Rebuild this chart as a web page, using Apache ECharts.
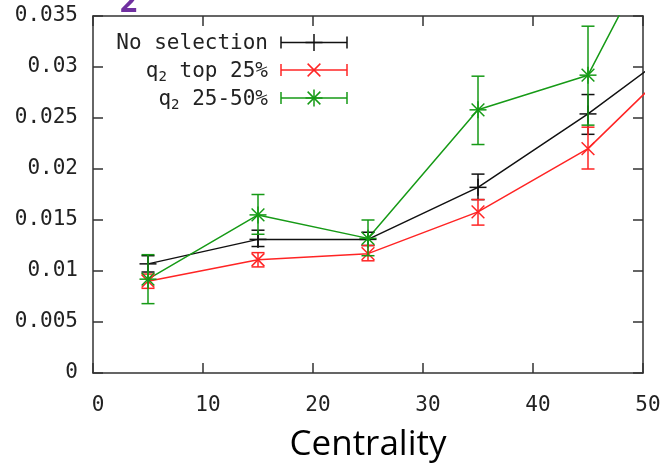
<!DOCTYPE html>
<html><head><meta charset="utf-8">
<script src="https://cdn.jsdelivr.net/npm/echarts@6/dist/echarts.min.js"></script>
<style>html,body{margin:0;padding:0;background:#fff}#c{width:662px;height:464px}</style>
</head><body><div id="c"></div>
<script>
var seriesNames = ['No selection', 'q2 top 25%', 'q2 25-50%'];
var xCentrality = [5, 15, 25, 35, 45, 55];
var noSelVal = [0.0107, 0.0131, 0.0131, 0.0182, 0.0254, 0.0334];
var noSelLo  = [0.0099, 0.0124, 0.0125, 0.0170, 0.0234];
var noSelHi  = [0.0115, 0.0140, 0.0138, 0.0195, 0.0273];
var topVal = [0.0090, 0.0111, 0.0117, 0.0158, 0.0220, 0.0325];
var topLo  = [0.0083, 0.0104, 0.0110, 0.0145, 0.0200];
var topHi  = [0.0097, 0.0118, 0.0125, 0.0170, 0.0241];
var midVal = [0.0092, 0.0155, 0.0132, 0.0258, 0.0292, 0.0499];
var midLo  = [0.0068, 0.0136, 0.0115, 0.0224, 0.0243];
var midHi  = [0.0116, 0.0175, 0.0150, 0.0291, 0.0340];
var xTicks = [0, 10, 20, 30, 40, 50];
var yTicks = [0, 0.005, 0.01, 0.015, 0.02, 0.025, 0.03, 0.035];

var colors = ['#111111', '#ff2424', '#169a16'];
var markers = ['plus', 'cross', 'star'];
var monoFont = '"DejaVu Sans Mono", monospace';

function markerShapes(kind, cx, cy, r, color) {
  var s = {stroke: color, lineWidth: 1.5, fill: null};
  var out = [];
  if (kind === 'plus' || kind === 'star') {
    out.push({type: 'line', shape: {x1: cx - r, y1: cy, x2: cx + r, y2: cy}, style: s});
    out.push({type: 'line', shape: {x1: cx, y1: cy - r, x2: cx, y2: cy + r}, style: s});
  }
  if (kind === 'cross' || kind === 'star') {
    var d = r * 0.75;
    out.push({type: 'line', shape: {x1: cx - d, y1: cy - d, x2: cx + d, y2: cy + d}, style: s});
    out.push({type: 'line', shape: {x1: cx - d, y1: cy + d, x2: cx + d, y2: cy - d}, style: s});
  }
  return out;
}

function errData(vals, lo, hi) {
  var d = [];
  for (var i = 0; i < lo.length; i++) d.push([xCentrality[i], vals[i], lo[i], hi[i]]);
  return d;
}
function lineData(vals) {
  return vals.map(function (v, i) { return [xCentrality[i], v]; });
}

function errSeries(idx, data) {
  return {
    type: 'custom', name: seriesNames[idx], z: 5, clip: true,
    data: data,
    encode: {x: 0, y: [1, 2, 3]},
    renderItem: function (params, api) {
      var x = api.value(0);
      var c = api.coord([x, api.value(1)]);
      var lo = api.coord([x, api.value(2)]);
      var hi = api.coord([x, api.value(3)]);
      var s = {stroke: colors[idx], lineWidth: 1.5};
      var cap = 6.5;
      var ch = [
        {type: 'line', shape: {x1: c[0], y1: lo[1], x2: c[0], y2: hi[1]}, style: s},
        {type: 'line', shape: {x1: c[0] - cap, y1: lo[1], x2: c[0] + cap, y2: lo[1]}, style: s},
        {type: 'line', shape: {x1: c[0] - cap, y1: hi[1], x2: c[0] + cap, y2: hi[1]}, style: s}
      ].concat(markerShapes(markers[idx], c[0], c[1], 8.5, colors[idx]));
      return {type: 'group', children: ch};
    }
  };
}

function lineSeries(idx, vals) {
  return {
    type: 'line', name: seriesNames[idx], data: lineData(vals), symbol: 'none',
    clip: true, z: 4, lineStyle: {color: colors[idx], width: 1.5}
  };
}

// legend (gnuplot style key)
var legendRows = [42.5, 70, 98];
var legendGraphics = [];
legendRows.forEach(function (y, i) {
  var name = seriesNames[i];
  var txt = name.indexOf('q2') === 0 ? '{n|q}{s|2}{n|' + name.slice(2) + '}' : '{n|' + name + '}';
  legendGraphics.push({
    type: 'text', x: 268, y: y + 1.5,
    style: {text: txt, align: 'right', verticalAlign: 'middle',
      rich: {n: {fontFamily: monoFont, fontSize: 21, fill: '#222'},
             s: {fontFamily: monoFont, fontSize: 14, fill: '#222', padding: [11, 0, 0, 0]}}}
  });
  var s = {stroke: colors[i], lineWidth: 1.5};
  legendGraphics.push({type: 'line', shape: {x1: 281, y1: y, x2: 347, y2: y}, style: s});
  legendGraphics.push({type: 'line', shape: {x1: 281, y1: y - 6, x2: 281, y2: y + 6}, style: s});
  legendGraphics.push({type: 'line', shape: {x1: 347, y1: y - 6, x2: 347, y2: y + 6}, style: s});
  markerShapes(markers[i], 314, y, 8.5, colors[i]).forEach(function (m) { legendGraphics.push(m); });
});
legendGraphics.push({
  type: 'text', x: 120, y: -12,
  style: {text: '2', fontFamily: '"Open Sans", sans-serif', fontWeight: 'bold', fontSize: 30, fill: '#7030a0'}
});

var axisLine = {show: true, onZero: false, lineStyle: {color: '#333', width: 1.5}};
var axisTick = {show: true, inside: true, length: 10, lineStyle: {color: '#333', width: 1.5}};

var option = {
  animation: false,
  backgroundColor: '#fff',
  grid: {left: 93, right: 19, top: 16, bottom: 91, containLabel: false, outerBoundsMode: 'none'},
  xAxis: [{
    type: 'value', min: xTicks[0], max: xTicks[xTicks.length - 1], interval: 10,
    position: 'bottom', axisLine: axisLine, axisTick: axisTick, splitLine: {show: false},
    axisLabel: {fontFamily: monoFont, fontSize: 21, color: '#222', margin: 22,
      padding: [0, 0, 0, 10], showMinLabel: true, showMaxLabel: true},
    name: 'Centrality', nameLocation: 'middle', nameGap: 55,
    nameTextStyle: {fontFamily: '"Open Sans", sans-serif', fontSize: 35, color: '#000'}
  }, {
    type: 'value', min: xTicks[0], max: xTicks[xTicks.length - 1], interval: 10,
    position: 'top', axisLine: axisLine, axisTick: axisTick, splitLine: {show: false},
    axisLabel: {show: false}
  }],
  yAxis: [{
    type: 'value', min: yTicks[0], max: yTicks[yTicks.length - 1], interval: 0.005,
    position: 'left', axisLine: axisLine, axisTick: axisTick, splitLine: {show: false},
    axisLabel: {fontFamily: monoFont, fontSize: 21, color: '#222', margin: 15,
      formatter: function (v) { return v === 0 ? '0' : String(parseFloat(v.toFixed(3))); }}
  }, {
    type: 'value', min: yTicks[0], max: yTicks[yTicks.length - 1], interval: 0.005,
    position: 'right', axisLine: axisLine, axisTick: axisTick, splitLine: {show: false},
    axisLabel: {show: false}
  }],
  graphic: legendGraphics,
  series: [
    lineSeries(0, noSelVal), errSeries(0, errData(noSelVal, noSelLo, noSelHi)),
    lineSeries(1, topVal), errSeries(1, errData(topVal, topLo, topHi)),
    lineSeries(2, midVal), errSeries(2, errData(midVal, midLo, midHi))
  ]
};
var chart = echarts.init(document.getElementById('c'), null, {renderer: 'canvas'});
chart.setOption(option);
</script></body></html>
